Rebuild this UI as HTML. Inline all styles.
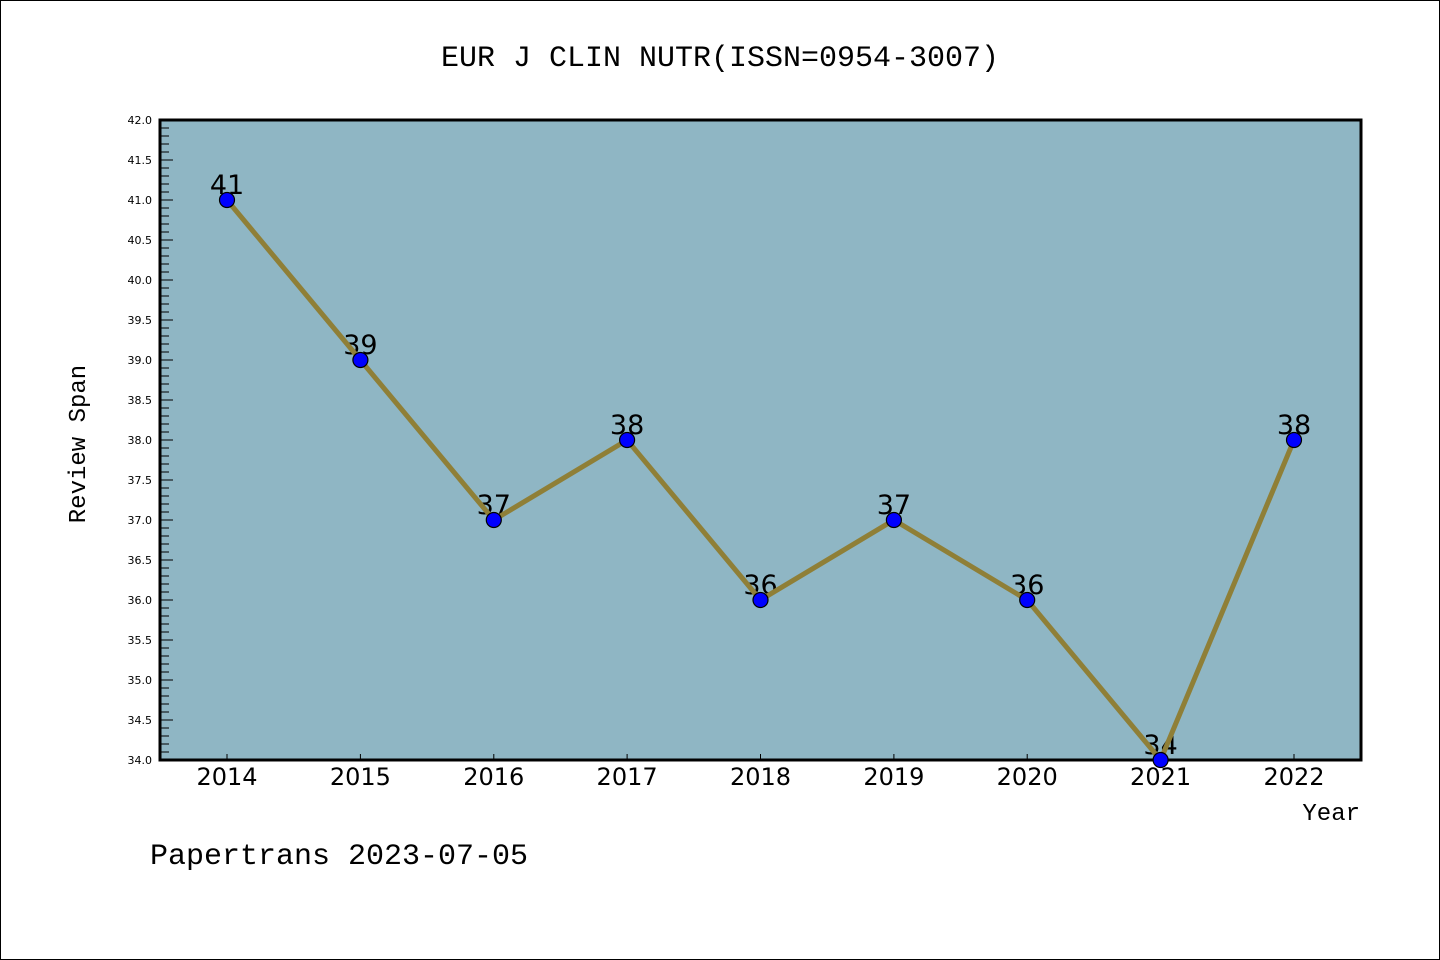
<!DOCTYPE html>
<html><head><style>body{margin:0;background:#fff}svg{display:block}</style></head><body>
<svg width="1440" height="960" xmlns="http://www.w3.org/2000/svg" font-family="'Liberation Mono','DejaVu Sans Mono',monospace">
<rect x="0.5" y="0.5" width="1439" height="959" fill="#fff" stroke="#000"/>
<text x="720" y="66" font-size="30" text-anchor="middle">EUR J CLIN NUTR(ISSN=0954-3007)</text>
<rect x="160" y="120" width="1201" height="640" fill="#8fb6c4"/>
<g id="ticks" stroke="#000" stroke-width="1">
<script>/* none */</script>
</g>
<g stroke="#000" stroke-width="1">
<path d="M160 128h9M160 136h9M160 144h9M160 152h9M160 168h9M160 176h9M160 184h9M160 192h9M160 208h9M160 216h9M160 224h9M160 232h9M160 248h9M160 256h9M160 264h9M160 272h9M160 288h9M160 296h9M160 304h9M160 312h9M160 328h9M160 336h9M160 344h9M160 352h9M160 368h9M160 376h9M160 384h9M160 392h9M160 408h9M160 416h9M160 424h9M160 432h9M160 448h9M160 456h9M160 464h9M160 472h9M160 488h9M160 496h9M160 504h9M160 512h9M160 528h9M160 536h9M160 544h9M160 552h9M160 568h9M160 576h9M160 584h9M160 592h9M160 608h9M160 616h9M160 624h9M160 632h9M160 648h9M160 656h9M160 664h9M160 672h9M160 688h9M160 696h9M160 704h9M160 712h9M160 728h9M160 736h9M160 744h9M160 752h9"/>
<path d="M160 160h13M160 200h13M160 240h13M160 280h13M160 320h13M160 360h13M160 400h13M160 440h13M160 480h13M160 520h13M160 560h13M160 600h13M160 640h13M160 680h13M160 720h13"/>
<path d="M227 760v-6M360.4 760v-6M493.8 760v-6M627.1 760v-6M760.5 760v-6M893.9 760v-6M1027.2 760v-6M1160.6 760v-6M1294 760v-6"/>
</g>
<rect x="160" y="120" width="1201" height="640" fill="none" stroke="#000" stroke-width="3"/>
<g font-size="11" text-anchor="end" font-family="'DejaVu Sans',sans-serif">
<text x="152" y="124">42.0</text><text x="152" y="164">41.5</text><text x="152" y="204">41.0</text><text x="152" y="244">40.5</text><text x="152" y="284">40.0</text><text x="152" y="324">39.5</text><text x="152" y="364">39.0</text><text x="152" y="404">38.5</text><text x="152" y="444">38.0</text><text x="152" y="484">37.5</text><text x="152" y="524">37.0</text><text x="152" y="564">36.5</text><text x="152" y="604">36.0</text><text x="152" y="644">35.5</text><text x="152" y="684">35.0</text><text x="152" y="724">34.5</text><text x="152" y="764">34.0</text>
</g>
<g font-size="24" text-anchor="middle" font-family="'DejaVu Sans',sans-serif">
<text x="227" y="785">2014</text><text x="360.4" y="785">2015</text><text x="493.8" y="785">2016</text><text x="627.1" y="785">2017</text><text x="760.5" y="785">2018</text><text x="893.9" y="785">2019</text><text x="1027.2" y="785">2020</text><text x="1160.6" y="785">2021</text><text x="1294" y="785">2022</text>
</g>
<text x="1360" y="820" font-size="24" text-anchor="end">Year</text>
<text transform="translate(85,444) rotate(-90)" font-size="24" text-anchor="middle">Review Span</text>
<text x="150" y="864" font-size="30">Papertrans 2023-07-05</text>
<g font-size="27" text-anchor="middle" font-family="'DejaVu Sans',sans-serif">
<text x="227" y="194">41</text><text x="360.4" y="354">39</text><text x="493.8" y="514">37</text><text x="627.1" y="434">38</text><text x="760.5" y="594">36</text><text x="893.9" y="514">37</text><text x="1027.2" y="594">36</text><text x="1160.6" y="754">34</text><text x="1294" y="434">38</text>
</g>
<polyline points="227,200 360.4,360 493.8,520 627.1,440 760.5,600 893.9,520 1027.2,600 1160.6,760 1294,440" fill="none" stroke="#8f7f37" stroke-width="5" stroke-linejoin="round"/>
<g fill="#0000ff" stroke="#000" stroke-width="1.2">
<circle cx="227" cy="200" r="7.5"/><circle cx="360.4" cy="360" r="7.5"/><circle cx="493.8" cy="520" r="7.5"/><circle cx="627.1" cy="440" r="7.5"/><circle cx="760.5" cy="600" r="7.5"/><circle cx="893.9" cy="520" r="7.5"/><circle cx="1027.2" cy="600" r="7.5"/><circle cx="1160.6" cy="760" r="7.5"/><circle cx="1294" cy="440" r="7.5"/>
</g>
</svg>
</body></html>
